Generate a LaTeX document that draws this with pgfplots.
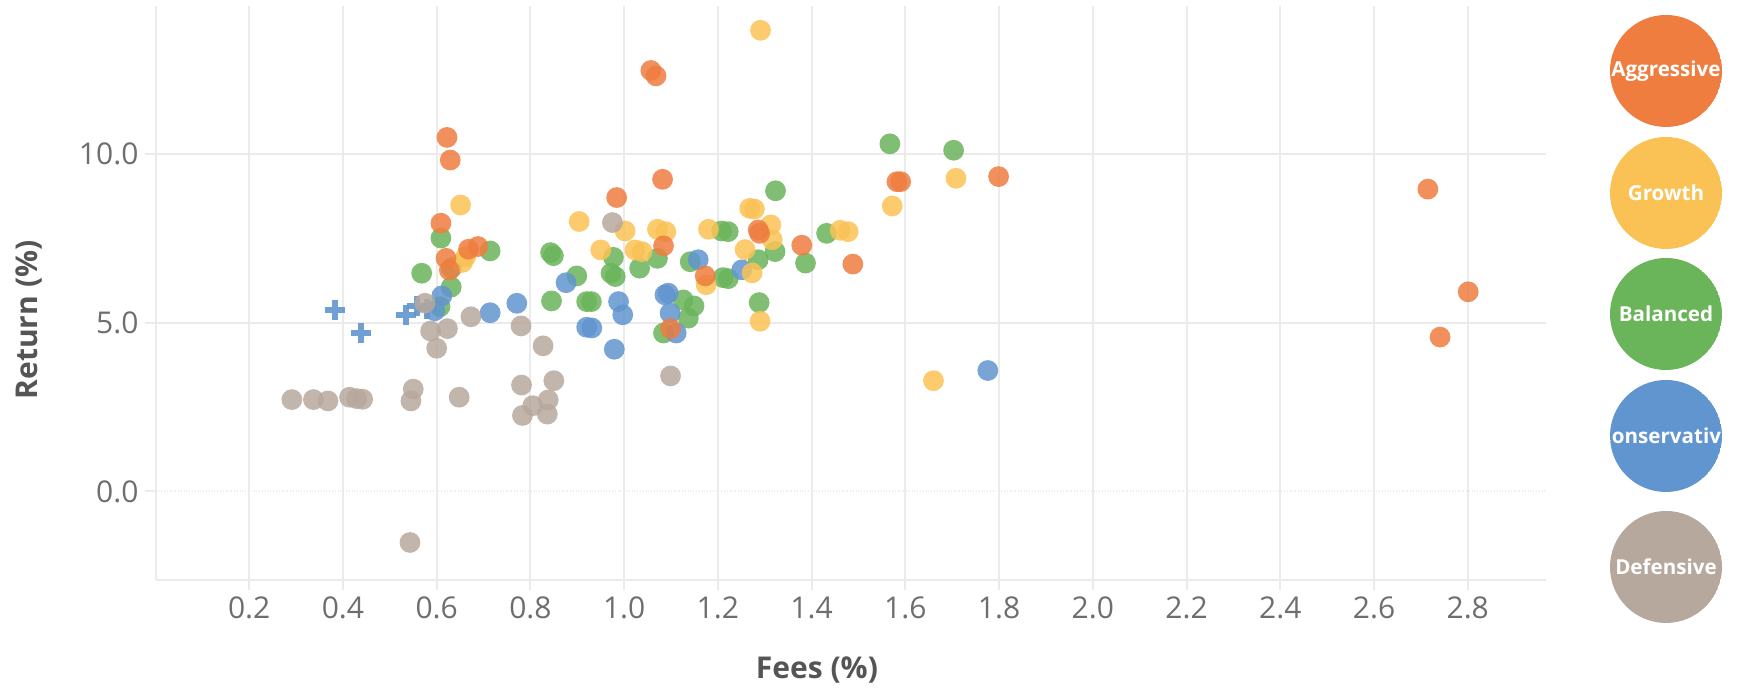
\documentclass[border=0pt]{standalone}
\usepackage{fontspec}
\setmainfont{Open Sans}
\usepackage{pgfplots}
\usepackage{pgfplotstable}
\pgfplotsset{compat=1.18}
\definecolor{cAgg}{HTML}{EE7D3F}
\definecolor{cGro}{HTML}{FAC255}
\definecolor{cBal}{HTML}{6AB45A}
\definecolor{cCon}{HTML}{6095CF}
\definecolor{cDef}{HTML}{B7A89D}
\definecolor{cGrid}{HTML}{EBEBEB}
\definecolor{cZero}{HTML}{A8A8A8}
\definecolor{cTick}{HTML}{6E6E6E}
\definecolor{cLabel}{HTML}{555555}

\pgfplotstableread{
x y
0.622 10.48
0.629 9.81
0.609 7.94
0.668 7.17
0.688 7.25
0.620 6.90
0.627 6.55
0.984 8.70
1.082 9.24
1.057 12.46
1.068 12.30
1.084 7.27
1.173 6.38
1.099 4.82
1.286 7.74
1.289 7.64
1.379 7.29
1.488 6.73
1.582 9.17
1.590 9.17
1.799 9.32
2.715 8.95
2.801 5.91
2.741 4.57
}\aggressive

\pgfplotstableread{
x y
0.651 8.48
0.655 6.78
0.662 6.95
0.904 7.99
0.950 7.15
1.002 7.71
1.023 7.15
1.038 7.10
1.071 7.76
1.089 7.69
1.180 7.76
1.175 6.12
1.258 7.16
1.268 8.38
1.278 8.36
1.313 7.89
1.316 7.45
1.273 6.47
1.291 13.65
1.290 5.04
1.461 7.73
1.478 7.69
1.572 8.45
1.708 9.27
1.660 3.28
}\growth

\pgfplotstableread{
x y
0.609 7.50
0.714 7.12
0.568 6.46
0.632 6.62
0.631 6.05
0.607 5.47
0.843 7.07
0.849 6.98
0.899 6.38
0.845 5.64
0.920 5.62
0.930 5.62
0.977 6.93
0.972 6.46
0.981 6.36
1.033 6.61
1.071 6.90
1.141 6.80
1.126 5.67
1.149 5.49
1.137 5.13
1.084 4.69
1.208 7.71
1.222 7.69
1.211 6.33
1.222 6.30
1.286 6.86
1.322 7.10
1.323 8.90
1.288 5.59
1.387 6.76
1.432 7.64
1.567 10.29
1.703 10.10
}\balanced

\pgfplotstableread{
x y
0.611 5.79
0.596 5.35
0.714 5.29
0.771 5.57
0.876 6.18
0.920 4.86
0.931 4.84
0.979 4.21
0.988 5.62
0.997 5.23
1.087 5.82
1.094 5.87
1.098 5.28
1.111 4.69
1.158 6.86
1.251 6.56
1.776 3.58
}\conservative

\pgfplotstableread{
x y
0.384 5.38
0.439 4.70
0.535 5.23
0.557 5.50
0.580 5.40
}\conscross

\pgfplotstableread{
x y
0.291 2.72
0.337 2.72
0.368 2.68
0.414 2.79
0.429 2.75
0.442 2.73
0.550 3.03
0.545 2.68
0.648 2.79
0.543 -1.51
0.781 3.15
0.850 3.28
0.805 2.54
0.838 2.71
0.783 2.25
0.836 2.29
0.827 4.31
0.780 4.90
0.600 4.24
0.587 4.75
0.623 4.82
0.673 5.17
0.575 5.57
1.099 3.42
0.975 7.96
}\defensive

\pgfplotsset{
  dot/.style={only marks, mark=*, mark size=5.2pt, color=#1,
    mark options={fill=#1, draw=#1, fill opacity=0.85, draw opacity=0}},
}

\begin{document}
\begin{tikzpicture}
\path[use as bounding box] (0,0) rectangle (868.5pt,344pt);
\begin{axis}[
  at={(77.75pt,54pt)}, anchor=south west,
  scale only axis, width=695.25pt, height=287pt,
  xmin=0, xmax=2.967, ymin=-2.62, ymax=14.37,
  axis x line*=bottom, axis y line*=left,
  axis line style={cGrid, line width=1pt, -},
  xtick={0.2,0.4,0.6,0.8,1.0,1.2,1.4,1.6,1.8,2.0,2.2,2.4,2.6,2.8},
  ytick={5,10},
  extra y ticks={0},
  extra y tick style={grid style={cZero, densely dotted, line width=1pt}},
  grid=major,
  major grid style={cGrid, line width=1pt},
  tick align=outside, major tick length=5pt,
  tick style={cGrid, line width=1pt},
  tick label style={font=\fontsize{15}{18}\selectfont, text=cTick},
  /pgf/number format/assume math mode=true,
  /pgf/number format/fixed,
  /pgf/number format/fixed zerofill,
  /pgf/number format/precision=1,
  xlabel={Fees (\%)}, ylabel={Return (\%)},
  label style={font=\bfseries\fontsize{15}{18}\selectfont, text=cLabel},
  xlabel style={at={(axis description cs:0.4757,-0.157)}, anchor=center},
  ylabel style={at={(axis description cs:-0.091,0.453)}, anchor=center},
  clip=false,
]
\addplot[dot=cBal] table {\balanced};
\addplot[dot=cCon] table {\conservative};
\addplot[only marks, mark=+, mark size=5pt, color=cCon, mark options={draw=cCon, line width=3pt, draw opacity=0.9}] table {\conscross};
\addplot[dot=cGro] table {\growth};
\addplot[dot=cDef] table {\defensive};
\addplot[dot=cAgg] table {\aggressive};
\end{axis}
\foreach \c/\name/\yy in {cAgg/Aggressive/308.5, cGro/Growth/247.5, cBal/Balanced/187, cCon/Conservative/126, cDef/Defensive/60.5} {
  \begin{scope}
    \clip (833pt,\yy pt) circle [radius=28pt];
    \fill[\c] (833pt,\yy pt) circle [radius=28pt];
    \node[text=white, font=\bfseries\fontsize{10.3}{12}\selectfont, inner sep=0pt] at (833pt,\yy pt) {\name};
  \end{scope}
}
\end{tikzpicture}
\end{document}
